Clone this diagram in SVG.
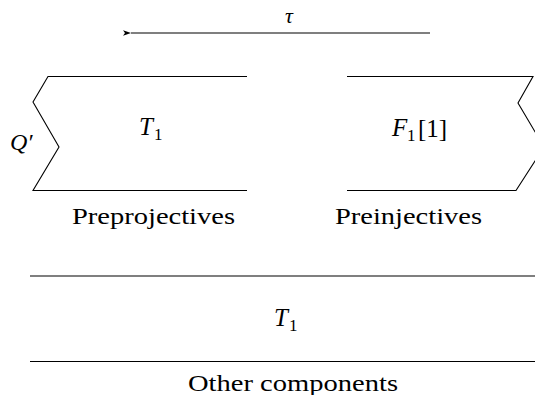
<svg xmlns="http://www.w3.org/2000/svg" width="535" height="395" viewBox="0 0 535 395">
<defs>
<style>
.ln{fill:none;stroke:#000;stroke-width:1.1}
text{fill:#000}
.m{font-style:italic}
</style>
<marker id="ah" markerWidth="9" markerHeight="7" refX="0" refY="3.5" orient="auto" markerUnits="userSpaceOnUse">
<path d="M0,3.5 L8,0.8 L6,3.5 L8,6.2 Z" fill="#000"/>
</marker>
</defs>
<rect width="535" height="395" fill="#fff"/>
<g id="connectors">
<line class="ln" x1="430" y1="33" x2="131" y2="33" marker-end="url(#ah)"/>
</g>
<g font-family="'Liberation Serif', 'Times New Roman', 'DejaVu Serif', serif">
<text class="m" x="289" y="23" font-size="22" text-anchor="middle">τ</text>
<g id="preprojectives">
<polyline class="ln" points="247,76.5 48,76.5 33,102 59,147 33,190.5 247,190.5"/>
<text class="m" x="139" y="135" font-size="25">T</text>
<text x="154" y="140" font-size="17">1</text>
<text class="m" x="10" y="150" font-size="24">Q′</text>
<text x="72" y="224" font-size="24" textLength="163" lengthAdjust="spacingAndGlyphs">Preprojectives</text>
</g>
<g id="preinjectives">
<polyline class="ln" points="347,76.5 533,76.5 518,103 544,147 516,190.5 347,190.5"/>
<text class="m" x="392" y="136" font-size="25">F</text>
<text x="407" y="141" font-size="17">1</text>
<text x="418" y="137" font-size="25">[1]</text>
<text x="335" y="224" font-size="24" textLength="147" lengthAdjust="spacingAndGlyphs">Preinjectives</text>
</g>
<g id="other">
<line class="ln" x1="30" y1="276" x2="535" y2="276"/>
<line class="ln" x1="30" y1="361.5" x2="535" y2="361.5"/>
<text class="m" x="274" y="326" font-size="25">T</text>
<text x="289" y="331" font-size="17">1</text>
<text x="188" y="391" font-size="24" textLength="210" lengthAdjust="spacingAndGlyphs">Other components</text>
</g>
</g>
</svg>
